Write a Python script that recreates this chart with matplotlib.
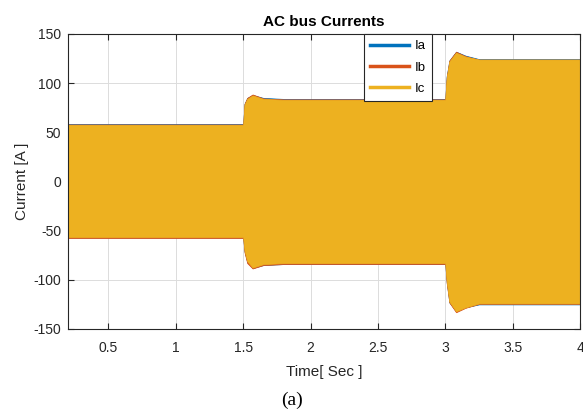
import matplotlib
matplotlib.use("Agg")
import matplotlib.pyplot as plt

# Envelope of each phase current (time in s, current in A)
t_env = [0.2, 1.5, 1.51, 1.53, 1.57, 1.65, 1.8, 3.0, 3.01, 3.03, 3.08, 3.15, 3.25, 4.0]
ia_upper = [58.5, 58.5, 79, 85, 88, 85, 84, 84, 107, 123, 132, 128, 124.5, 124.5]
ia_lower = [-57, -57, -71, -82, -88, -85, -84, -84, -102, -123, -132, -128, -125, -125]
ib_upper = [58, 58, 79, 85, 88.5, 84.5, 83.5, 83.5, 106, 123, 132, 127.5, 124, 124]
ib_lower = [-57.5, -57.5, -72, -83, -88.5, -85, -84, -84, -103, -123, -133, -128.5, -124.5, -124.5]
ic_upper = [57.5, 57.5, 78, 84, 87.5, 84, 83, 83, 105, 122, 131, 127, 124, 124]
ic_lower = [-56.5, -56.5, -70, -81, -87.5, -84, -83, -83, -101, -122, -132, -128, -124, -124]

series = [
    ("Ia", ia_upper, ia_lower, "#0072BD"),
    ("Ib", ib_upper, ib_lower, "#D95319"),
    ("Ic", ic_upper, ic_lower, "#EDB120"),
]

xticks = [0.5, 1, 1.5, 2, 2.5, 3, 3.5, 4]
xticklabels = ["0.5", "1", "1.5", "2", "2.5", "3", "3.5", "4"]
yticks = [-150, -100, -50, 0, 50, 100, 150]

plt.rcParams["font.family"] = ["Liberation Sans", "DejaVu Sans"]
plt.rcParams["axes.unicode_minus"] = False

fig = plt.figure(figsize=(5.83, 4.19), dpi=100)
ax = fig.add_axes([0.1166, 0.2148, 0.8783, 0.7041])

for name, upper, lower, color in series:
    ax.fill_between(t_env, lower, upper, color=color, linewidth=0.5,
                    edgecolor=color)
    ax.plot([], [], color=color, linewidth=2.5, label=name)

ax.set_xlim(0.2, 4)
ax.set_ylim(-150, 150)
ax.set_xticks(xticks)
ax.set_xticklabels(xticklabels)
ax.set_yticks(yticks)
ax.grid(True, color="#dcdcdc", linewidth=0.7)
ax.set_axisbelow(True)
ax.tick_params(direction="in", top=True, right=True, labelsize=10,
               colors="#262626", length=4, width=0.8)
ax.tick_params(axis="x", pad=9)
ax.tick_params(axis="y", pad=5)
for spine in ax.spines.values():
    spine.set_color("#262626")
    spine.set_linewidth(0.8)

ax.set_title("AC bus Currents", fontsize=11, fontweight="bold", pad=6)
ax.set_xlabel("Time[ Sec ]", fontsize=11, color="#262626", labelpad=7)
ax.set_ylabel("Current [A ]", fontsize=11, color="#262626", labelpad=3)

leg = ax.legend(loc="upper left", bbox_to_anchor=(0.578, 1.0), borderaxespad=0,
                fontsize=9.5, handlelength=3.0, handletextpad=0.4,
                labelspacing=0.7, borderpad=0.45, fancybox=False, framealpha=1)
leg.get_frame().set_edgecolor("#262626")
leg.get_frame().set_linewidth(0.8)

fig.text(0.5, 0.045, "(a)", ha="center", va="center", fontsize=14,
         family=["Liberation Serif", "DejaVu Serif"])

fig.savefig("out.png", dpi=100)
